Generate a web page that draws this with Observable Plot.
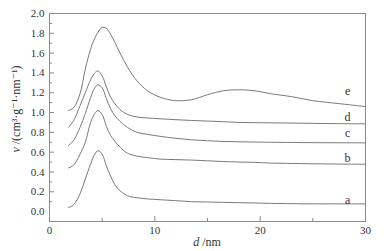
<!DOCTYPE html>
<html>
<head>
<meta charset="utf-8">
<script src="https://cdn.jsdelivr.net/npm/d3@7"></script>
<script src="https://cdn.jsdelivr.net/npm/@observablehq/plot@0.6"></script>
<style>
  html, body { margin: 0; padding: 0; background: #fff; }
  #chart svg { display: block; }
  #chart svg, #chart svg text { font-family: "Liberation Serif", "DejaVu Serif", serif !important; }
</style>
</head>
<body>
<div id="chart"></div>
<script>
// pore diameter grid (nm)
const dValues = [1.8, 2.3, 2.9, 3.4, 3.9, 4.3, 4.6, 5.0, 5.4, 5.8, 6.2, 6.7, 7.4, 8.3, 9.3, 10.5, 12, 13.5, 15, 16.5, 18, 19.5, 21, 23, 25, 27.5, 30];

// series values v (cm^3 g^-1 nm^-1), curves a..e
const seriesA = [0.04, 0.07, 0.18, 0.33, 0.48, 0.58, 0.615, 0.58, 0.46, 0.36, 0.27, 0.21, 0.16, 0.14, 0.128, 0.12, 0.11, 0.10, 0.097, 0.093, 0.09, 0.087, 0.083, 0.08, 0.078, 0.078, 0.078];
const seriesB = [0.44, 0.47, 0.58, 0.70, 0.90, 0.99, 1.02, 0.98, 0.86, 0.77, 0.71, 0.65, 0.59, 0.56, 0.545, 0.53, 0.525, 0.52, 0.513, 0.505, 0.50, 0.497, 0.49, 0.486, 0.483, 0.48, 0.478];
const seriesC = [0.667, 0.72, 0.85, 0.99, 1.15, 1.25, 1.28, 1.25, 1.14, 1.04, 0.97, 0.91, 0.85, 0.80, 0.78, 0.76, 0.74, 0.725, 0.715, 0.708, 0.705, 0.702, 0.70, 0.698, 0.696, 0.695, 0.694];
const seriesD = [0.85, 0.92, 1.07, 1.20, 1.33, 1.40, 1.42, 1.37, 1.26, 1.155, 1.09, 1.03, 0.98, 0.955, 0.945, 0.937, 0.928, 0.92, 0.914, 0.908, 0.90, 0.898, 0.896, 0.894, 0.891, 0.888, 0.886];
const seriesE = [1.02, 1.05, 1.19, 1.44, 1.64, 1.75, 1.81, 1.86, 1.85, 1.79, 1.71, 1.60, 1.46, 1.32, 1.22, 1.155, 1.12, 1.13, 1.18, 1.22, 1.23, 1.22, 1.19, 1.16, 1.12, 1.09, 1.06];

const seriesNames = ["a", "b", "c", "d", "e"];
const seriesValues = [seriesA, seriesB, seriesC, seriesD, seriesE];

// curve labels (x in nm, y in data units)
const labelX = 28.3;
const labelY = [0.111, 0.535, 0.788, 0.949, 1.215];

// ticks
const xTickLabels = [0, 10, 20, 30];
const xMajorTicks = [10, 20];
const xMinorTicks = [5, 15, 25];
const yTickLabels = [0, 0.2, 0.4, 0.6, 0.8, 1.0, 1.2, 1.4, 1.6, 1.8, 2.0];
const yMajorTicks = [0.2, 0.4, 0.6, 0.8, 1.0, 1.2, 1.4, 1.6, 1.8];
const yMinorTicks = [0.1, 0.3, 0.5, 0.7, 0.9, 1.1, 1.3, 1.5, 1.7, 1.9];

const rows = [];
seriesNames.forEach((name, i) => {
  dValues.forEach((d, j) => rows.push({series: name, d, v: seriesValues[i][j]}));
});
const labels = seriesNames.map((name, i) => ({series: name, x: labelX, y: labelY[i]}));

const W = 385, H = 251;
const mL = 49, mR = 20, mT = 13, mB = 30;
const innerW = W - mL - mR, innerH = H - mT - mB;
const lineColor = "#7a7a7a";
const axisColor = "#8a8a8a";
const serif = "Liberation Serif";

const chart = Plot.plot({
  width: W,
  height: H,
  marginLeft: mL,
  marginRight: mR,
  marginTop: mT,
  marginBottom: mB,
  style: {fontFamily: serif, fontSize: "11px", color: "#333", background: "#fff"},
  x: {domain: [0, 30], label: null},
  y: {domain: [-0.1, 2.0], label: null},
  marks: [
    Plot.axisX(xTickLabels, {tickSize: 0, tickPadding: 5, fontSize: 11, fontFamily: serif, tickFormat: d => String(d), label: null}),
    Plot.axisY(yTickLabels, {tickSize: 0, tickPadding: 5, fontSize: 11, fontFamily: serif, tickFormat: d => d.toFixed(1), label: null}),
    Plot.ruleX(xMajorTicks, {x: d => d, insetTop: innerH - 5, stroke: axisColor}),
    Plot.ruleX(xMinorTicks, {x: d => d, insetTop: innerH - 3, stroke: axisColor}),
    Plot.ruleY(yMajorTicks, {y: d => d, insetRight: innerW - 5, stroke: axisColor}),
    Plot.ruleY(yMinorTicks, {y: d => d, insetRight: innerW - 3, stroke: axisColor}),
    Plot.frame({stroke: axisColor, strokeWidth: 1}),
    Plot.line(rows, {x: "d", y: "v", z: "series", stroke: lineColor, strokeWidth: 1, curve: "catmull-rom"}),
    Plot.text(labels, {x: "x", y: "y", text: "series", fontSize: 12, fontFamily: serif, fill: "#333", textAnchor: "middle"})
  ]
});

// axis titles with italic symbols and superscripts
const svg = d3.select(chart);
const xt = svg.append("text")
  .attr("x", mL + innerW / 2).attr("y", 246)
  .attr("text-anchor", "middle")
  .attr("font-family", serif).attr("font-size", 12).attr("fill", "#333");
xt.append("tspan").attr("font-style", "italic").text("d");
xt.append("tspan").text(" /nm");

const yt = svg.append("text")
  .attr("transform", `translate(20,${mT + innerH / 2 - 8}) rotate(-90)`)
  .attr("text-anchor", "middle")
  .attr("font-family", serif).attr("font-size", 12).attr("fill", "#333");
yt.append("tspan").attr("font-style", "italic").text("v");
yt.append("tspan").text(" /(cm³·g⁻¹·nm⁻¹)");

document.getElementById("chart").appendChild(chart);
</script>
</body>
</html>
